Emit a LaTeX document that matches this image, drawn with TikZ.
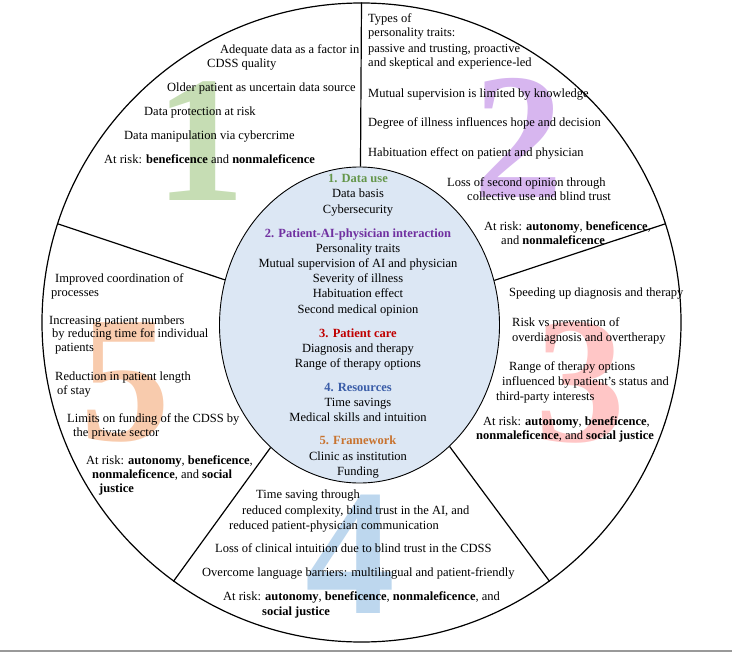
\documentclass[tikz,border=0pt]{standalone}
\usepackage{fontspec}
\setmainfont{Liberation Serif}
\usetikzlibrary{shapes.geometric}
\definecolor{huegreen}{HTML}{64964A}
\definecolor{huepurple}{HTML}{7030A0}
\definecolor{huered}{HTML}{C00000}
\definecolor{hueblue}{HTML}{3A5DA8}
\definecolor{hueorange}{HTML}{C8732F}
\definecolor{palegreen}{HTML}{C6DDB4}
\definecolor{palepurple}{HTML}{D7B6EF}
\definecolor{palered}{HTML}{FFC6C6}
\definecolor{paleblue}{HTML}{BDD7EE}
\definecolor{paleorange}{HTML}{F8CBAD}
\definecolor{corefill}{HTML}{DCE7F4}
\begin{document}
\begin{tikzpicture}[x=1pt, y=-1pt]
      \tikzset{entry/.style={anchor=base west, inner sep=0pt, font=\fontsize{12.5}{14.5}\selectfont},
               mid/.style={anchor=base, inner sep=0pt, font=\fontsize{12.5}{14.5}\selectfont},
               head/.style={anchor=base, inner sep=0pt, font=\fontsize{12.5}{14.5}\selectfont\bfseries},
               digit/.style={anchor=base, inner sep=0pt, font=\fontsize{180}{180}\selectfont\bfseries},
               spoke/.style={draw, line width=1.2pt}}
      \useasboundingbox (0,0) rectangle (732,653);
%% Digits
      	\node[digit, text=palegreen] (n1) at (200,200) {1};
      	\node[digit, text=palepurple] (n2) at (518.5,197) {2};
      	\node[digit, text=palered] (n3) at (580,441) {3};
      	\node[digit, text=paleblue] (n4) at (350,613) {4};
      	\node[digit, text=paleorange] (n5) at (125,440) {5};
%% Wheel
      	\node[draw, circle, line width=1.2pt, inner sep=0pt, minimum size=639pt] (rim) at (361.5,322.5) {};
      	\node[draw, ellipse, line width=0.9pt, fill=corefill, inner sep=0pt, minimum width=280pt, minimum height=316pt] (core) at (359.5,325) {};
%Spokes
		\path[spoke] (core) -- (rim.90);
		\path[spoke] (core) -- (rim.18);
		\path[spoke] (core) -- (rim.-54);
		\path[spoke] (core) -- (rim.-126);
		\path[spoke] (core) -- (rim.162);
%% Centre
      	\node[head, text=huegreen] (h1) at (358,182.5) {1. Data use};
      	\node[mid] (h2) at (358,197.5) {Data basis};
      	\node[mid] (h3) at (358,213.5) {Cybersecurity};
      	\node[head, text=huepurple] (h4) at (358,237.5) {2. Patient-AI-physician interaction};
      	\node[mid] (h5) at (358,252.5) {Personality traits};
      	\node[mid] (h6) at (358,267.5) {Mutual supervision of AI and physician};
      	\node[mid] (h7) at (358,282.5) {Severity of illness};
      	\node[mid] (h8) at (358,297.5) {Habituation effect};
      	\node[mid] (h9) at (358,313.5) {Second medical opinion};
      	\node[head, text=huered] (h10) at (358,337.5) {3. Patient care};
      	\node[mid] (h11) at (358,352.5) {Diagnosis and therapy};
      	\node[mid] (h12) at (358,367.5) {Range of therapy options};
      	\node[head, text=hueblue] (h13) at (358,391.5) {4. Resources};
      	\node[mid] (h14) at (358,406.5) {Time savings};
      	\node[mid] (h15) at (358,421.5) {Medical skills and intuition};
      	\node[head, text=hueorange] (h16) at (358,444.5) {5. Framework};
      	\node[mid] (h17) at (358,460.5) {Clinic as institution};
      	\node[mid] (h18) at (358,475.5) {Funding};
%% Sector 1
      	\node[entry] (a1) at (220,53.5) {Adequate data as a factor in};
      	\node[entry] (a2) at (207,67.5) {CDSS quality};
      	\node[entry] (a3) at (167,91.5) {Older patient as uncertain data source};
      	\node[entry] (a4) at (144,115.5) {Data protection at risk};
      	\node[entry] (a5) at (124,139.5) {Data manipulation via cybercrime};
      	\node[entry] (a6) at (104,163.5) {At risk: \textbf{beneficence} and \textbf{nonmaleficence}};
%% Sector 2
      	\node[entry] (b1) at (368,22.5) {Types of};
      	\node[entry] (b2) at (368,36.5) {personality traits:};
      	\node[entry] (b3) at (368,52.5) {passive and trusting, proactive};
      	\node[entry] (b4) at (368,66.5) {and skeptical and experience-led};
      	\node[entry] (b5) at (368,97.5) {Mutual supervision is limited by knowledge};
      	\node[entry] (b6) at (368,126.5) {Degree of illness influences hope and decision};
      	\node[entry] (b7) at (368,156.5) {Habituation effect on patient and physician};
      	\node[entry] (b8) at (447,186.5) {Loss of second opinion through};
      	\node[entry] (b9) at (467,200.5) {collective use and blind trust};
      	\node[entry] (b10) at (484,230.5) {At risk: \textbf{autonomy}, \textbf{beneficence},};
      	\node[entry] (b11) at (501,244.5) {and \textbf{nonmaleficence}};
%% Sector 3
      	\node[entry] (c1) at (509,296.5) {Speeding up diagnosis and therapy};
      	\node[entry] (c2) at (512,326.5) {Risk vs prevention of};
      	\node[entry] (c3) at (512,341.5) {overdiagnosis and overtherapy};
      	\node[entry] (c4) at (509,370.5) {Range of therapy options};
      	\node[entry] (c5) at (502,385.5) {influenced by patient’s status and};
      	\node[entry] (c6) at (496,400.5) {third-party interests};
      	\node[entry] (c7) at (483,425.5) {At risk: \textbf{autonomy}, \textbf{beneficence},};
      	\node[entry] (c8) at (476,439.5) {\textbf{nonmaleficence}, and \textbf{social justice}};
%% Sector 4
      	\node[entry] (d1) at (256,498.5) {Time saving through};
      	\node[entry] (d2) at (242,514.5) {reduced complexity, blind trust in the AI, and};
      	\node[entry] (d3) at (229,529.5) {reduced patient-physician communication};
      	\node[entry] (d4) at (215,552.5) {Loss of clinical intuition due to blind trust in the CDSS};
      	\node[entry] (d5) at (202,576.5) {Overcome language barriers: multilingual and patient-friendly};
      	\node[entry] (d6) at (223,600.5) {At risk: \textbf{autonomy}, \textbf{beneficence}, \textbf{nonmaleficence}, and};
      	\node[entry] (d7) at (262,615.5) {\textbf{social justice}};
%% Sector 5
      	\node[entry] (f1) at (55,282.5) {Improved coordination of};
      	\node[entry] (f2) at (51,296.5) {processes};
      	\node[entry] (f3) at (49,324.5) {Increasing patient numbers};
      	\node[entry] (f4) at (52,337.5) {by reducing time for individual};
      	\node[entry] (f5) at (55,351.5) {patients};
      	\node[entry] (f6) at (55,380.5) {Reduction in patient length};
      	\node[entry] (f7) at (57,394.5) {of stay};
      	\node[entry] (f8) at (67,422.5) {Limits on funding of the CDSS by};
      	\node[entry] (f9) at (73,436.5) {the private sector};
      	\node[entry] (f10) at (86,464.5) {At risk: \textbf{autonomy}, \textbf{beneficence},};
      	\node[entry] (f11) at (92,478.5) {\textbf{nonmaleficence}, and \textbf{social}};
      	\node[entry] (f12) at (99,492.5) {\textbf{justice}};
%Rule
		\fill[gray!80] (0,649.5) rectangle (732,652);
	\end{tikzpicture}
\end{document}
